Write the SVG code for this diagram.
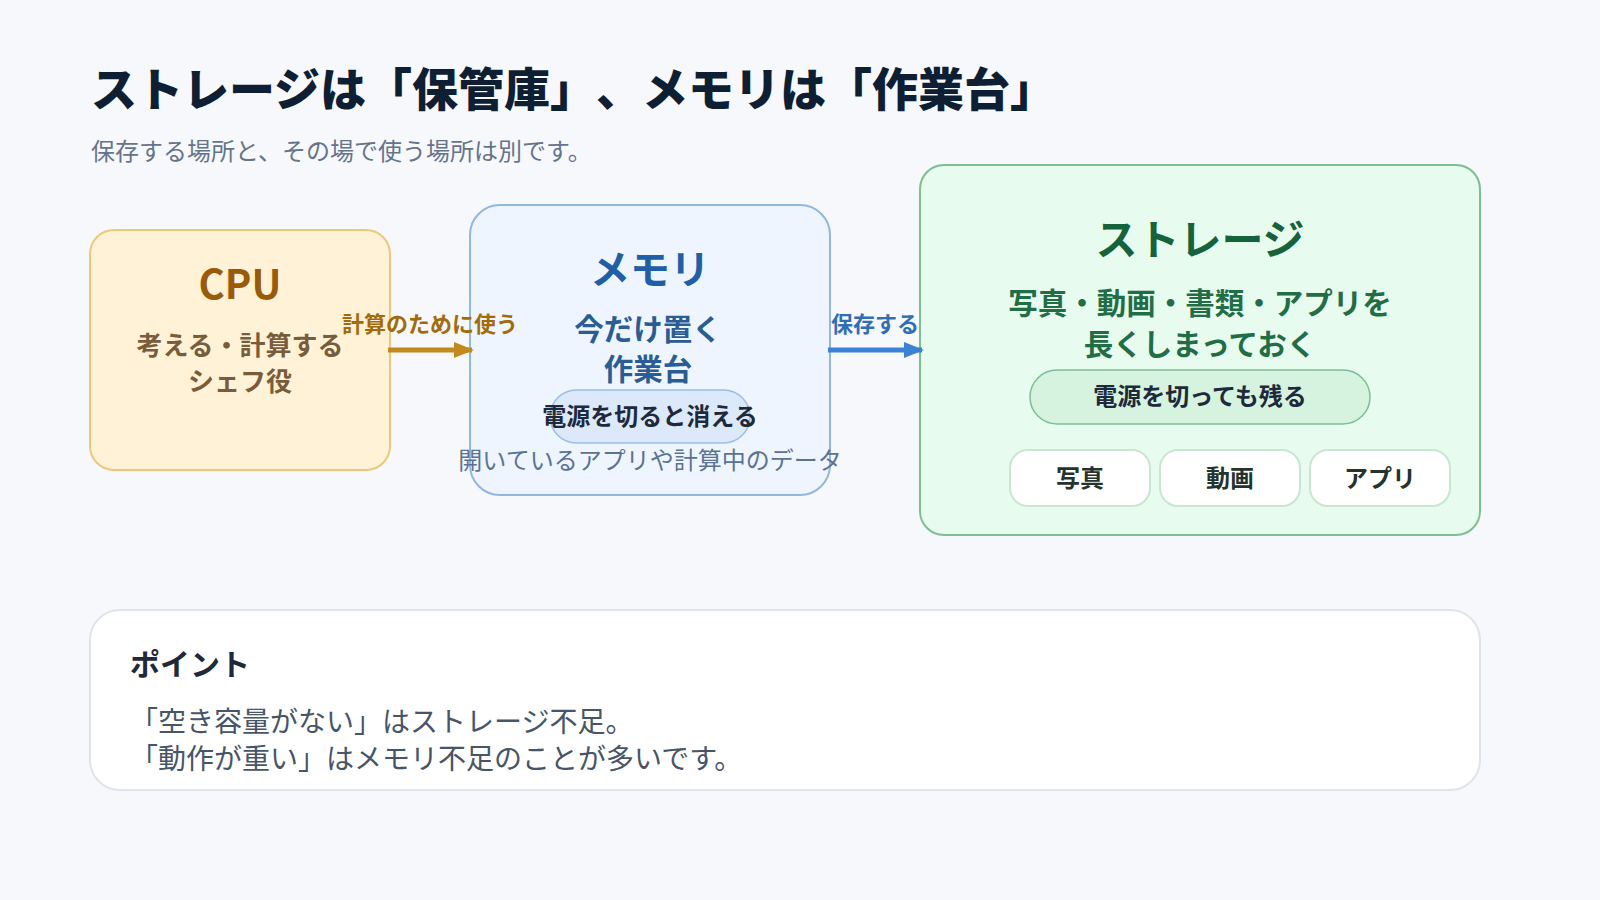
<svg xmlns="http://www.w3.org/2000/svg" width="1600" height="900" viewBox="0 0 1600 900">
  <defs>
    <style>
      text { font-family: "Noto Sans CJK JP", "Noto Sans", sans-serif; text-spacing-trim: space-all; }
      .title { font-size: 46px; font-weight: 900; fill: #0f1f33; }
      .sub { font-size: 24px; fill: #64748b; }
      .b { font-weight: 700; }
      .mid { text-anchor: middle; }
    </style>
    <marker id="arrAmber" viewBox="0 0 10 10" refX="9" refY="5" markerWidth="4" markerHeight="4" orient="auto">
      <path d="M0,1 L10,5 L0,9 Z" fill="#c28a1c"/>
    </marker>
    <marker id="arrBlue" viewBox="0 0 10 10" refX="9" refY="5" markerWidth="4" markerHeight="4" orient="auto">
      <path d="M0,1 L10,5 L0,9 Z" fill="#3b82d6"/>
    </marker>
  </defs>
  <rect width="1600" height="900" fill="#f6f8fc"/>

  <text class="title" x="91" y="106">ストレージは「保管庫」、メモリは「作業台」</text>
  <text class="sub" x="91" y="160">保存する場所と、その場で使う場所は別です。</text>

  <g id="cpu">
    <rect x="90" y="230" width="300" height="240" rx="24" fill="#fff2d6" stroke="#ecc97a" stroke-width="2"/>
    <text class="b mid" x="240" y="299" font-size="40" fill="#9a5a06">CPU</text>
    <text class="b mid" x="240" y="355" font-size="26" fill="#7a5c3a">考える・計算する</text>
    <text class="b mid" x="240" y="391" font-size="26" fill="#7a5c3a">シェフ役</text>
  </g>

  <g id="memory">
    <rect x="470" y="205" width="360" height="290" rx="30" fill="#eef5ff" stroke="#90b7e0" stroke-width="2"/>
    <text class="b mid" x="650" y="284" font-size="40" fill="#1f5fa8">メモリ</text>
    <text class="b mid" x="648" y="340" font-size="29.5" fill="#2a5d95">今だけ置く</text>
    <text class="b mid" x="648" y="380" font-size="29.5" fill="#2a5d95">作業台</text>
    <rect x="550" y="390" width="200" height="53" rx="26.5" fill="#dbe9fb" stroke="#9cbde6" stroke-width="1.5"/>
    <text class="b mid" x="650" y="425" font-size="24" fill="#1e293b">電源を切ると消える</text>
    <text class="mid" x="650" y="469" font-size="24" fill="#5a7394">開いているアプリや計算中のデータ</text>
  </g>

  <g id="storage">
    <rect x="920" y="165" width="560" height="370" rx="24" fill="#e7fbee" stroke="#7dbf93" stroke-width="2"/>
    <text class="b mid" x="1200" y="255" font-size="42" fill="#14633a">ストレージ</text>
    <text class="b mid" x="1200" y="314" font-size="29.5" fill="#1f6e45">写真・動画・書類・アプリを</text>
    <text class="b mid" x="1200" y="355" font-size="29.5" fill="#1f6e45">長くしまっておく</text>
    <rect x="1030" y="370" width="340" height="54" rx="27" fill="#d5f3df" stroke="#7dbf93" stroke-width="1.5"/>
    <text class="b mid" x="1200" y="405" font-size="24" fill="#1e293b">電源を切っても残る</text>
  </g>

  <g id="chip-photo">
    <rect x="1010" y="450" width="140" height="56" rx="18" fill="#ffffff" stroke="#c8e6d2" stroke-width="2"/>
    <text class="b mid" x="1080" y="487" font-size="24" fill="#24332b">写真</text>
  </g>
  <g id="chip-video">
    <rect x="1160" y="450" width="140" height="56" rx="18" fill="#ffffff" stroke="#c8e6d2" stroke-width="2"/>
    <text class="b mid" x="1230" y="487" font-size="24" fill="#24332b">動画</text>
  </g>
  <g id="chip-app">
    <rect x="1310" y="450" width="140" height="56" rx="18" fill="#ffffff" stroke="#c8e6d2" stroke-width="2"/>
    <text class="b mid" x="1380" y="487" font-size="24" fill="#24332b">アプリ</text>
  </g>

  <g id="connectors">
    <line x1="388" y1="350" x2="472" y2="350" stroke="#c28a1c" stroke-width="5" marker-end="url(#arrAmber)"/>
    <text class="b mid" x="430" y="332" font-size="22" fill="#a36b0a">計算のために使う</text>
    <line x1="828" y1="350" x2="922" y2="350" stroke="#3b82d6" stroke-width="5" marker-end="url(#arrBlue)"/>
    <text class="b mid" x="875" y="332" font-size="22" fill="#2f6fb5">保存する</text>
  </g>

  <g id="point">
    <rect x="90" y="610" width="1390" height="180" rx="30" fill="#ffffff" stroke="#dfe3ea" stroke-width="2"/>
    <text class="b" x="130" y="675" font-size="30" fill="#1e293b">ポイント</text>
    <text x="130" y="732" font-size="28" fill="#475569">「空き容量がない」はストレージ不足。</text>
    <text x="130" y="769" font-size="28" fill="#475569">「動作が重い」はメモリ不足のことが多いです。</text>
  </g>
</svg>
